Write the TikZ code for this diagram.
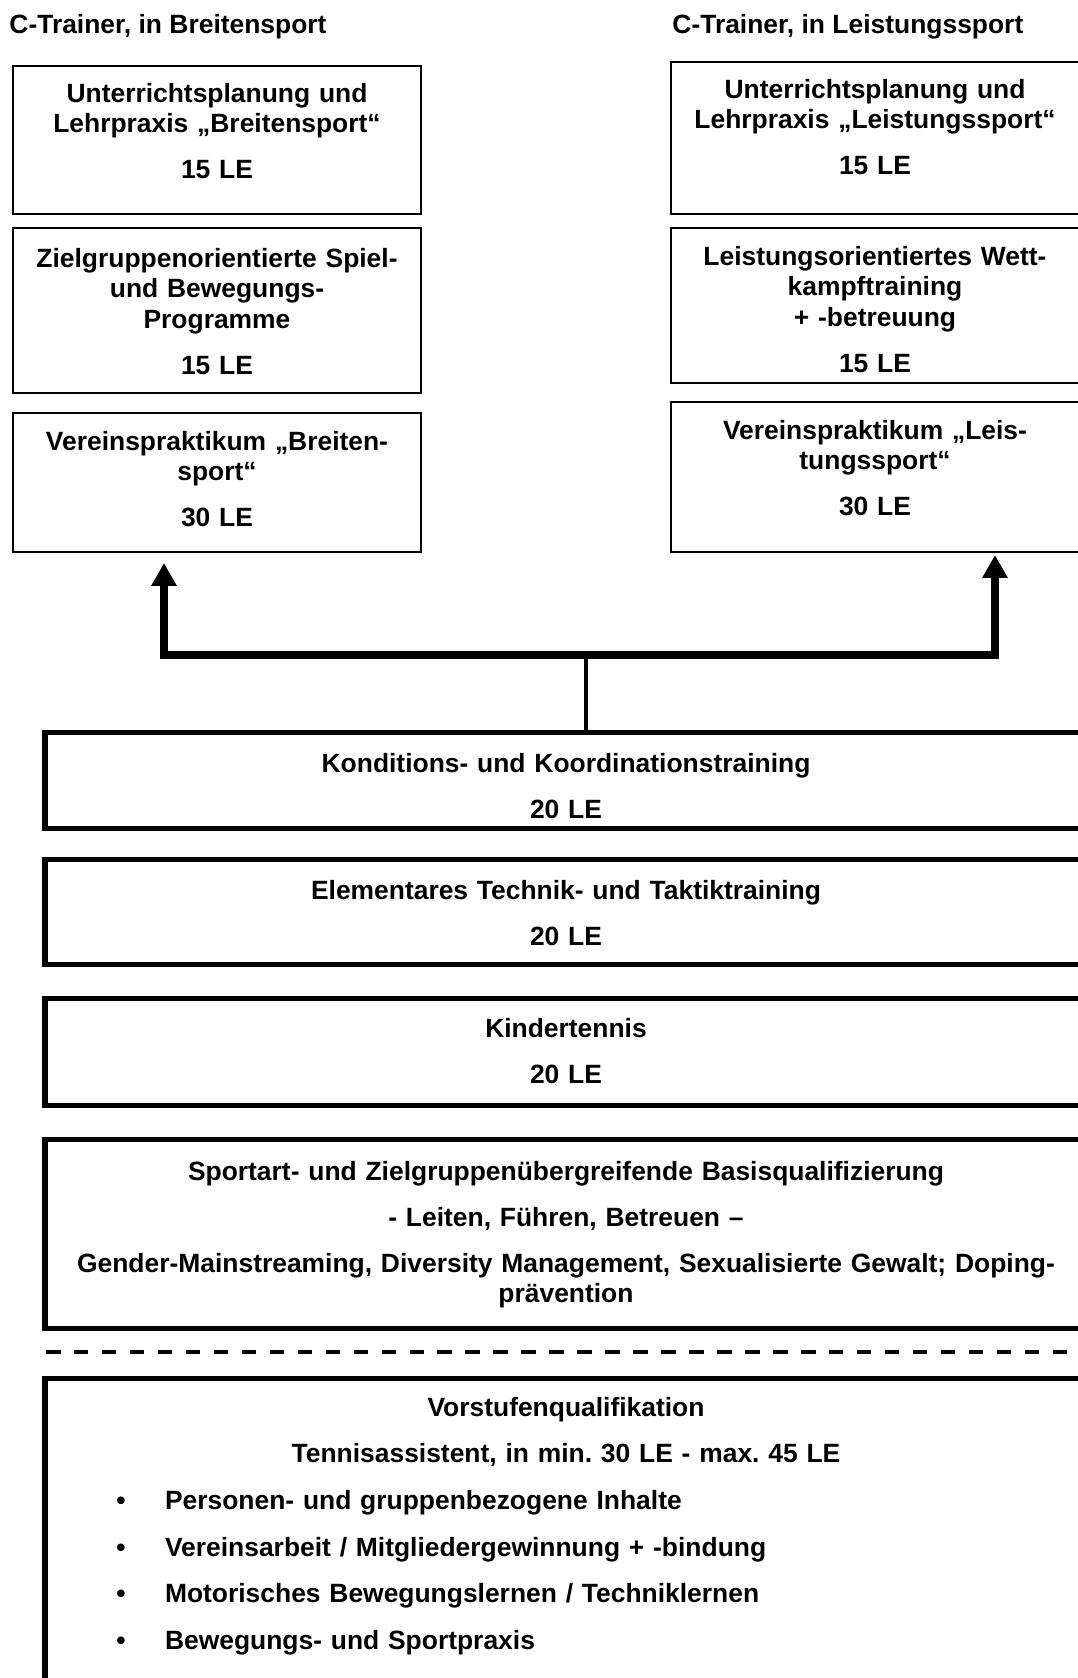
\documentclass[tikz,border=0pt]{standalone}
\usepackage{fontspec}
\setmainfont{Liberation Sans}
\usetikzlibrary{arrows.meta}
\frenchspacing

\newlength\px
\setlength\px{0.4542pt}

\begin{document}
\begin{tikzpicture}[
  x=0.4542pt, y=-0.4542pt,
  every node/.style={font=\fontsize{12}{13.8}\selectfont\bfseries, inner sep=0pt},
  cell/.style={draw, line width=0.75pt, text width=408\px, align=center, anchor=north},
  wide/.style={draw, line width=2.3pt, text width=1042\px, align=center, anchor=north},
  pad/.style 2 args={text height=#1\px, text depth=#2\px},
  head/.style={anchor=base west},
  bar/.style={line width=3.6pt,
              {Triangle[length=10.4pt, width=10.9pt]}-{Triangle[length=10.4pt, width=10.9pt]}},
  stem/.style={line width=1.8pt},
  cut/.style={line width=1.8pt, dash pattern=on 6.6pt off 6.1pt}
]
\path[use as bounding box] (0,0) rectangle (1078,1678);
\clip (0,0) rectangle (1078,1678);

% ---- Headings ----
\node[head] (hl) at (9,33) {C-Trainer, in Breitensport};
\node[head] (hr) at (672,33) {C-Trainer, in Leistungssport};

% ---- Breitensport ----
\node[cell, pad={36.5}{111.5}] (lb1) at (217,65)
  {Unterrichtsplanung und\\ Lehrpraxis „Breitensport“\\[7.1pt] 15 LE};
\node[cell, pad={39.5}{125.5}] (lb2) at (217,227)
  {Zielgruppenorientierte Spiel-\\ und Bewegungs-\\ Programme\\[7.1pt] 15 LE};
\node[cell, pad={37.5}{101.5}] (lb3) at (217,412)
  {Vereinspraktikum „Breiten-\\ sport“\\[7.1pt] 30 LE};

% ---- Leistungssport ----
\node[cell, pad={36.5}{115.5}] (rb1) at (875,61)
  {Unterrichtsplanung und\\ Lehrpraxis „Leistungssport“\\[7.1pt] 15 LE};
\node[cell, pad={37.5}{117.5}] (rb2) at (875,227)
  {Leistungsorientiertes Wett-\\ kampftraining\\ + -betreuung\\[7.1pt] 15 LE};
\node[cell, pad={37.5}{112.5}] (rb3) at (875,401)
  {Vereinspraktikum „Leis-\\ tungssport“\\[7.1pt] 30 LE};

% ---- Common modules ----
\node[wide, pad={39.5}{56.5}] (kk) at (566,730)
  {Konditions- und Koordinationstraining\\[7.1pt] 20 LE};
\node[wide, pad={39.5}{65.5}] (tt) at (566,857)
  {Elementares Technik- und Taktiktraining\\[7.1pt] 20 LE};
\node[wide, pad={38.5}{68.5}] (kt) at (566,996)
  {Kindertennis\\[7.1pt] 20 LE};
\node[wide, pad={40.5}{148.5}] (bq) at (566,1137)
  {Sportart- und Zielgruppenübergreifende Basisqualifizierung\\[7.1pt]
   - Leiten, Führen, Betreuen –\\[7.1pt]
   Gender-Mainstreaming, Diversity Management, Sexualisierte Gewalt; Doping-\\
   prävention};

% ---- Separator ----
\draw[cut] (46,1352) -- (1070,1352);

% ---- Vorstufe ----
\node[wide, pad={38}{290}] (vq) at (566,1375.5)
  {Vorstufenqualifikation\\[7.1pt] Tennisassistent, in min. 30 LE - max. 45 LE};
\node[anchor=base west, text width=900\px, align=left] (vlist) at (116,1509.5)
  {\makebox[48.6\px][l]{•}Personen- und gruppenbezogene Inhalte\\[7.4pt]
   \makebox[48.6\px][l]{•}Vereinsarbeit / Mitgliedergewinnung + -bindung\\[7.4pt]
   \makebox[48.6\px][l]{•}Motorisches Bewegungslernen / Techniklernen\\[7.4pt]
   \makebox[48.6\px][l]{•}Bewegungs- und Sportpraxis};

% ---- Connectors ----
\coordinate (hub) at (586,655);
\coordinate (tipl) at (164,563);
\coordinate (tipr) at (995,555);
\draw[stem] (hub) -- (hub |- kk.north);
\draw[bar] (tipl) |- (hub) -| (tipr);

\end{tikzpicture}
\end{document}
